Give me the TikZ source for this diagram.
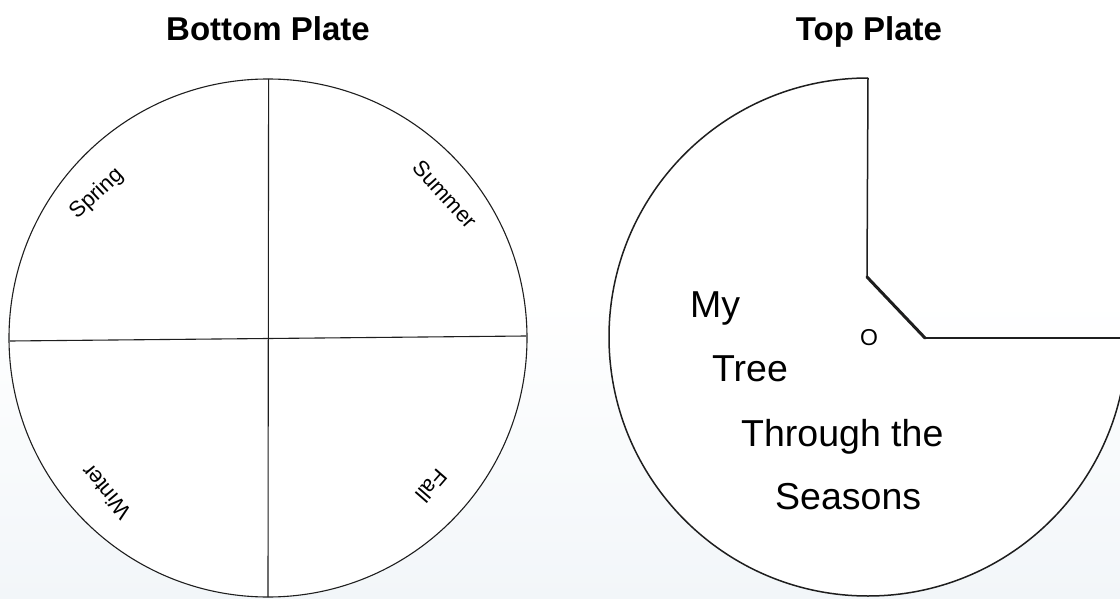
\documentclass[tikz,border=0pt]{standalone}
\usepackage{fontspec}
\setmainfont{Liberation Sans}
\definecolor{bgbottom}{HTML}{F2F6F9}
\definecolor{ink}{HTML}{1E1E1E}
\tikzset{
  plateline/.style={draw=ink, line width=1.1pt},
  topline/.style={draw=ink, line width=1.5pt},
  slitline/.style={draw=ink, line width=3pt, line cap=round},
  title/.style={font=\fontsize{33}{33}\selectfont\bfseries, anchor=base, inner sep=0pt},
  season/.style={font=\fontsize{22}{22}\selectfont, anchor=center, inner sep=0pt},
  cover/.style={font=\fontsize{37.5}{37.5}\selectfont, anchor=base west, inner sep=0pt}
}
\begin{document}
\begin{tikzpicture}[x=1pt,y=-1pt]
\useasboundingbox (0,0) rectangle (1120,599);
\fill[white] (0,0) rectangle (1120,300);
\shade[top color=white, bottom color=bgbottom] (0,300) rectangle (1120,599);

% titles
\node[title] (t1) at (268,41) {Bottom Plate};
\node[title] (t2) at (869,41) {Top Plate};

% bottom plate
\coordinate (bc) at (268,338);
\fill[white] (bc) circle[radius=259];
\draw[plateline] (bc) circle[radius=259];
\coordinate (vtop) at (268.6,79);
\coordinate (vbot) at (268,597);
\coordinate (hl) at (10,341);
\coordinate (hr) at (526,336);
\draw[plateline] (vtop) -- (vbot);
\draw[plateline] (hl) -- (hr);
\node[season, rotate=43] (spring) at (97,194) {Spring};
\node[season, rotate=-48] (summer) at (445,194) {Summer};
\node[season, rotate=130] (winter) at (106,492) {Winter};
\node[season, rotate=229] (fall) at (432,486) {Fall};

% top plate
\coordinate (tc) at (868,337);
\coordinate (ttop) at (868,78);
\coordinate (slitA) at (867,277);
\coordinate (slitB) at (925,338);
\coordinate (hend) at (1127,338);
\fill[white] (ttop) arc[start angle=270, end angle=0, radius=259] -- (hend) -- (slitB) -- (slitA) -- cycle;
\draw[topline] (ttop) arc[start angle=270, end angle=0, radius=259];
\draw[topline] (ttop) -- (slitA);
\draw[slitline] (slitA) -- (slitB);
\draw[topline] (slitB) -- (hend);
\node[font=\fontsize{23}{23}\selectfont, inner sep=0pt] (hole) at (869,338) {O};

\node[cover] (my) at (690,317) {My};
\node[cover] (tree) at (712,381) {Tree};
\node[cover] (through) at (741,446) {Through the};
\node[cover] (seasons) at (775,509) {Seasons};
\end{tikzpicture}
\end{document}
